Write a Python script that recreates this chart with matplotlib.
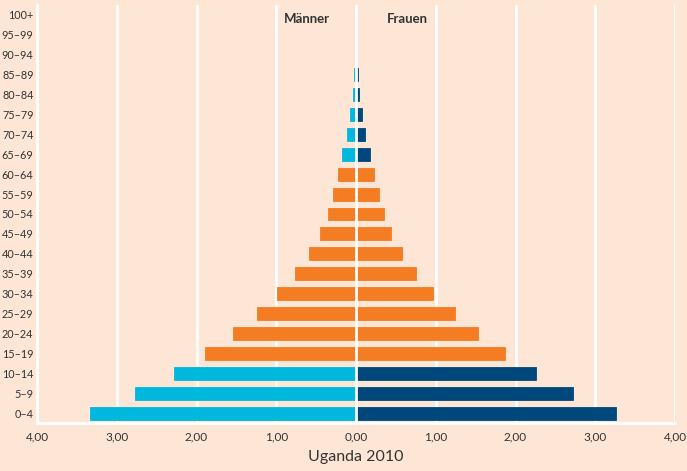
import matplotlib
matplotlib.use("Agg")
import matplotlib.pyplot as plt
import numpy as np

age_groups = ["0–4", "5–9", "10–14", "15–19", "20–24", "25–29", "30–34", "35–39",
              "40–44", "45–49", "50–54", "55–59", "60–64", "65–69", "70–74", "75–79",
              "80–84", "85–89", "90–94", "95–99", "100+"]
men = [3.33, 2.77, 2.28, 1.89, 1.54, 1.24, 0.99, 0.77, 0.59, 0.45, 0.355, 0.285, 0.22,
       0.17, 0.11, 0.08, 0.04, 0.02, 0.0, 0.0, 0.0]
women = [3.26, 2.72, 2.26, 1.87, 1.53, 1.24, 0.97, 0.75, 0.575, 0.44, 0.35, 0.285, 0.22,
         0.17, 0.11, 0.08, 0.04, 0.02, 0.0, 0.0, 0.0]
x_ticks = [-4, -3, -2, -1, 0, 1, 2, 3, 4]
title = "Uganda 2010"

BG = "#fde6d6"
ORANGE = "#f47c22"
LIGHTBLUE = "#00b8de"
DARKBLUE = "#00487c"
TEXT = "#333333"

plt.rcParams['font.family'] = ['Lato', 'DejaVu Sans']

fig = plt.figure(figsize=(6.87, 4.71), dpi=100, facecolor=BG)
ax = fig.add_axes([37/687, 1-423/471, (675-37)/687, (423-5)/471], facecolor=BG)

y = np.arange(len(age_groups))
young_old = [(i <= 2) or (i >= 13) for i in range(len(age_groups))]
mcol = [LIGHTBLUE if f else ORANGE for f in young_old]
wcol = [DARKBLUE if f else ORANGE for f in young_old]

for xv in x_ticks:
    ax.axvline(xv, color="white", lw=2, zorder=1)

ax.barh(y, [-v for v in men], height=0.65, color=mcol, edgecolor=mcol,
        linewidth=0.6, zorder=2)
ax.barh(y, women, height=0.65, color=wcol, edgecolor=wcol,
        linewidth=0.6, zorder=2)
ax.axvline(0, color="white", lw=2, zorder=3)

ax.set_xlim(-4, 4)
ax.set_ylim(-0.5, 20.5)
ax.set_xticks(x_ticks)
ax.set_xticklabels([f"{abs(v):.2f}".replace(".", ",") for v in x_ticks], fontsize=8.5, color=TEXT)
ax.set_yticks(y)
ax.set_yticklabels(age_groups, fontsize=7.8, color=TEXT)
ax.tick_params(axis="y", length=0, pad=2.5)
ax.tick_params(axis="x", length=0, pad=6)

for s in ["top", "right"]:
    ax.spines[s].set_visible(False)
for s in ["left", "bottom"]:
    ax.spines[s].set_color("white")
    ax.spines[s].set_linewidth(2)

ax.text(-0.62, 19.78, "Männer", ha="center", va="center", fontsize=9.5, fontweight="bold", color=TEXT)
ax.text(0.64, 19.78, "Frauen", ha="center", va="center", fontsize=9.5, fontweight="bold", color=TEXT)

fig.text(356/687, 1-457/471, title, ha="center", va="center", fontsize=11.5, color=TEXT)

fig.savefig("out.png", dpi=100, facecolor=BG)
